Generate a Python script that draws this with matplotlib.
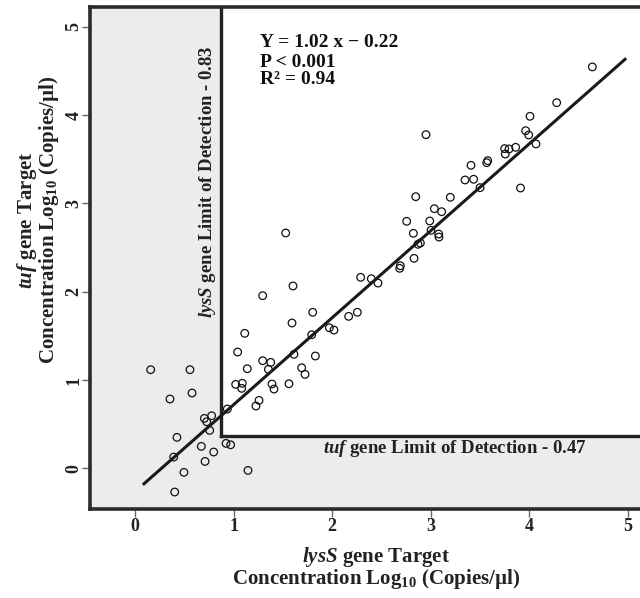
import matplotlib
matplotlib.use("Agg")
import matplotlib.pyplot as plt
from matplotlib.patches import Rectangle
import numpy as np

# ---- data ----
lyss = [0.158, 0.557, 0.578, 0.354, 0.703, 0.777, 0.727, 0.757, 0.425, 0.392,
        0.672, 0.798, 0.710, 0.496, 0.402, 0.923, 0.970, 1.146, 0.936, 1.113,
        1.041, 1.139, 1.021, 1.088, 1.082, 1.258, 1.227, 1.295,
        1.529, 1.603, 1.295, 1.803, 1.593, 2.168, 2.256, 2.290, 2.398, 2.466,
        1.972, 2.019, 1.793, 1.613, 1.830, 1.377, 1.353, 1.691, 1.725, 1.562,
        1.390, 1.410,
        2.953, 3.410, 3.570, 3.580, 3.349, 3.437, 3.502, 2.849, 3.200, 3.038,
        3.112, 2.757, 2.991, 2.825, 3.004, 3.082, 3.085, 2.896, 2.872, 2.832,
        2.693, 2.686, 3.752, 3.758,
        4.642, 4.280, 4.009, 3.965, 3.996, 3.864, 3.796, 4.070, 3.913]
tuf = [1.117, 1.117, 0.853, 0.785, 0.566, 0.596, 0.528, 0.430, 0.351, 0.128,
       0.249, 0.185, 0.079, -0.045, -0.268, 0.283, 0.267, -0.023, 0.672, 1.529,
       1.317, 1.128, 0.951, 0.963, 0.906, 0.770, 0.706, 1.219,
       2.665, 2.065, 1.955, 1.767, 1.646, 1.721, 1.767, 2.163, 2.147, 2.098,
       1.592, 1.566, 1.513, 1.291, 1.272, 1.200, 1.121, 1.139, 1.064, 0.958,
       0.955, 0.898,
       3.778, 3.431, 3.461, 3.484, 3.265, 3.273, 3.178, 3.076, 3.069, 2.940,
       2.906, 2.797, 2.801, 2.661, 2.695, 2.653, 2.619, 2.551, 2.537, 2.378,
       2.294, 2.265, 3.620, 3.559,
       4.545, 4.140, 3.986, 3.823, 3.775, 3.635, 3.616, 3.673, 3.174]

fit_slope = 0.984
fit_intercept = -0.263
fit_xrange = [0.09, 4.974]

lod_lyss = 0.875   # drawn position of the lysS limit line
lod_tuf = 0.366    # drawn position of the tuf limit line

ticks = [0, 1, 2, 3, 4, 5]
tick_labels = ["0", "1", "2", "3", "4", "5"]

eq_lines = ["Y = 1.02 x \u2212 0.22", "P < 0.001", "R\u00b2 = 0.94"]
lyss_lod_label = r"$lysS$ gene Limit of Detection - 0.83"
tuf_lod_label = r"$tuf$ gene Limit of Detection - 0.47"
unit_line = r"Concentration Log$_{10}$" + " (Copies/\u00b5l)"
xlabel = r"$lysS$ gene Target" + "\n" + unit_line
ylabel = r"$tuf$ gene Target" + "\n" + unit_line

# ---- style ----
plt.rcParams['font.family'] = ['Liberation Serif', 'DejaVu Serif']
plt.rcParams['font.weight'] = 'bold'
plt.rcParams['mathtext.fontset'] = 'custom'
plt.rcParams['mathtext.rm'] = 'Liberation Serif:bold'
plt.rcParams['mathtext.it'] = 'Liberation Serif:italic:bold'
plt.rcParams['mathtext.bf'] = 'Liberation Serif:bold'

W, H = 640, 598
fig = plt.figure(figsize=(W / 100, H / 100), dpi=100)
left_px, right_px, top_px, bottom_px = 90, 647.3, 7.3, 509
ax = fig.add_axes([left_px / W, (H - bottom_px) / H,
                   (right_px - left_px) / W, (bottom_px - top_px) / H])

xmin, xmax = -0.458, 5.2
ymin, ymax = -0.46, 5.22
ax.set_xlim(xmin, xmax)
ax.set_ylim(ymin, ymax)

ax.set_facecolor('#ececec')
ax.add_patch(Rectangle((lod_lyss, lod_tuf), xmax - lod_lyss, ymax - lod_tuf,
                       facecolor='white', edgecolor='none', zorder=0.5))
ax.plot([lod_lyss, lod_lyss], [lod_tuf, ymax], color='#222222', lw=2.4,
        solid_capstyle='projecting', zorder=2)
ax.plot([lod_lyss, xmax], [lod_tuf, lod_tuf], color='#222222', lw=2.4,
        solid_capstyle='projecting', zorder=2)

ax.scatter(lyss, tuf, s=30, facecolors='none', edgecolors='#111111',
           linewidths=0.9, zorder=3)

fx = np.array(fit_xrange)
ax.plot(fx, fit_slope * fx + fit_intercept, color='#1a1a1a', lw=2.2, zorder=4)

for sp in ['left', 'bottom', 'top', 'right']:
    ax.spines[sp].set_linewidth(2.6)
    ax.spines[sp].set_color('#2b2b2b')

ax.set_xticks(ticks)
ax.set_xticklabels(tick_labels)
ax.set_yticks(ticks)
ax.set_yticklabels(tick_labels, rotation=90, va='center')
ax.tick_params(axis='both', length=5.5, width=1.0, color='#666666',
               labelsize=13, labelcolor='#222222')
ax.tick_params(axis='x', pad=1.0)
ax.tick_params(axis='y', pad=0.0)

# equation text
eq_y = [4.82, 4.60, 4.40]
for txt, yy in zip(eq_lines, eq_y):
    ax.text(1.263, yy, txt, fontsize=14, fontweight='bold', ha='left',
            va='center', color='#111111', zorder=5)

ax.text(0.73, 3.25, lyss_lod_label, rotation=90, fontsize=13.5,
        ha='center', va='center', color='#222222', zorder=5)
ax.text(3.25, 0.23, tuf_lod_label, fontsize=13.5,
        ha='center', va='center', color='#222222', zorder=5)

fig.text(376 / W, 1 - 568 / H, xlabel, fontsize=15, ha='center',
         va='center', linespacing=0.85, color='#222222')
fig.text(38 / W, 1 - 220 / H, ylabel, fontsize=15, ha='center',
         va='center', rotation=90, linespacing=0.85, color='#222222')

fig.savefig('out.png', dpi=100)
